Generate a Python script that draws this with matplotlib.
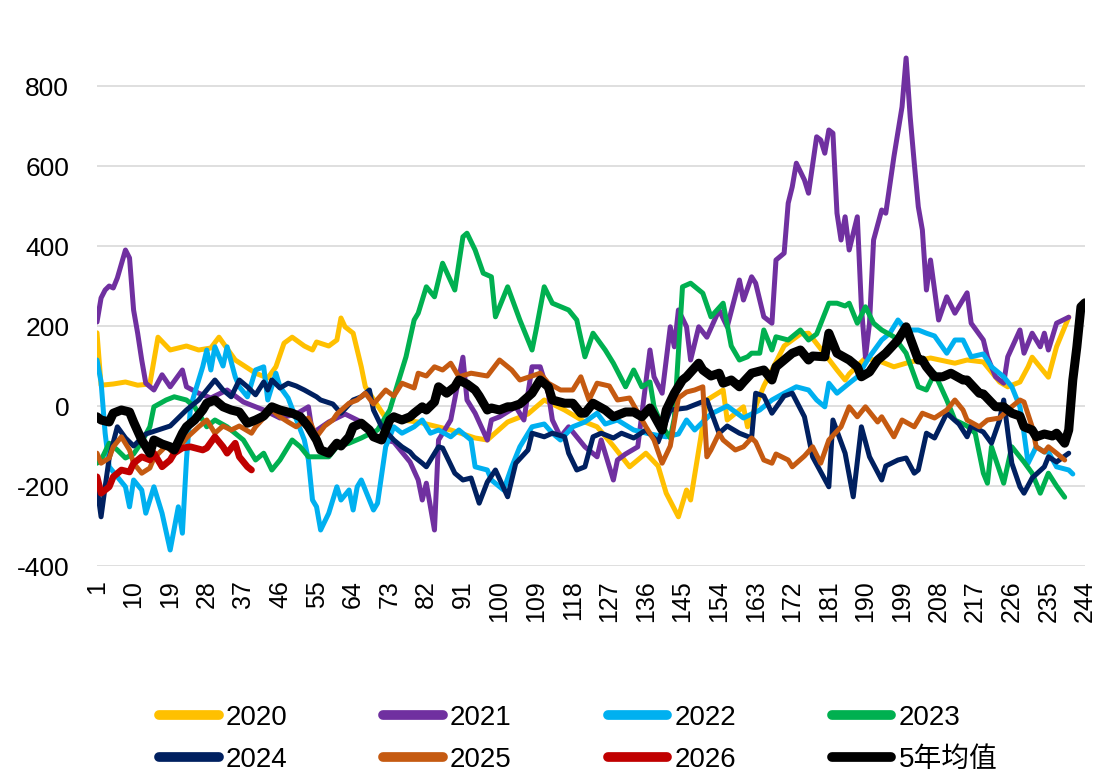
import matplotlib
matplotlib.use("Agg")
import matplotlib.pyplot as plt
from matplotlib.lines import Line2D

# ---------------- data ----------------
x2020 = [1, 2, 5, 8, 11, 14, 16, 19, 23, 26, 29, 31, 35, 40, 43, 45, 47, 49, 52, 54, 55, 58, 60, 61, 62, 64, 66, 67,
         72, 80, 88, 94, 97, 102, 107, 111, 116, 121, 124, 128, 132, 136, 139, 141, 144, 146, 147, 149, 151, 155, 156,
         160, 161, 165, 170, 174, 176, 180, 183, 185, 186, 190, 194, 197, 201, 206, 212, 215, 219, 223, 225, 228, 230,
         231, 235, 237, 240]
y2020 = [183, 52, 55, 60, 52, 55, 172, 140, 150, 140, 145, 172, 115, 82, 70, 98, 157, 172, 150, 140, 160, 150, 165, 220,
         198, 182, 98, 48, -30, -40, -60, -80, -85, -40, -20, 15, -10, -40, -52, -100, -152, -118, -150, -218, -277, -210,
         -235, -110, 15, 40, -35, -2, -52, 50, 150, 180, 182, 130, 90, 65, 80, 120, 110, 98, 110, 120, 107, 115, 110, 60,
         48, 60, 98, 122, 72, 148, 222]

x2021 = [1, 2, 3, 4, 5, 6, 8, 9, 10, 11, 12, 13, 15, 17, 19, 22, 23, 26, 29, 33, 37, 42, 46, 50, 53, 54, 58, 62, 66, 70,
         74, 78, 80, 81, 82, 84, 85, 88, 91, 92, 94, 97, 98, 100, 104, 106, 108, 110, 112, 113, 115, 117, 121, 124, 125,
         128, 129, 131, 134, 137, 138, 140, 142, 143, 144, 146, 147, 149, 151, 154, 156, 159, 160, 162, 163, 165, 167,
         168, 170, 171, 172, 173, 175, 176, 178, 179, 180, 181, 182, 183, 184, 185, 186, 188, 189, 190, 191, 192, 194,
         195, 197, 199, 200, 201, 202, 203, 204, 205, 206, 208, 210, 212, 215, 216, 219, 220, 222, 224, 225, 228, 229,
         231, 233, 234, 235, 237, 240]
y2021 = [210, 270, 290, 300, 295, 320, 390, 370, 240, 182, 115, 57, 40, 78, 48, 90, 48, 32, 20, 40, 10, -10, -30, -20,
         -2, -68, -40, -20, -40, -80, -90, -140, -185, -235, -193, -310, -85, -35, 122, 15, -18, -85, -35, -27, -2, -35,
         98, 98, 32, -35, -77, -52, -102, -127, -85, -185, -135, -120, -102, 140, 73, 32, 198, 148, 240, 198, 115, 198,
         172, 240, 198, 315, 265, 323, 307, 223, 207, 365, 382, 507, 548, 607, 565, 532, 673, 665, 632, 690, 682, 482,
         415, 473, 390, 473, 248, 122, 207, 415, 490, 482, 623, 748, 870, 723, 608, 498, 440, 290, 365, 215, 273, 232,
         283, 207, 165, 123, 73, 57, 123, 190, 132, 182, 148, 182, 140, 207, 222]

x2022 = [1, 2, 3, 4, 8, 9, 10, 12, 13, 15, 17, 19, 21, 22, 23, 24, 27, 28, 29, 30, 32, 33, 35, 36, 38, 40, 42, 43, 45,
         46, 48, 52, 53, 54, 55, 56, 58, 60, 61, 63, 64, 65, 66, 69, 70, 72, 74, 76, 79, 81, 83, 85, 88, 90, 93, 94, 97,
         98, 101, 103, 105, 108, 111, 113, 115, 118, 121, 124, 126, 129, 133, 137, 141, 144, 146, 148, 152, 156, 160,
         164, 167, 170, 173, 176, 178, 180, 181, 183, 186, 188, 191, 194, 196, 198, 200, 203, 205, 207, 210, 212, 214,
         216, 219, 221, 224, 226, 228, 229, 230, 232, 234, 235, 237, 240, 241]
y2022 = [115, 60, -68, -152, -202, -252, -185, -210, -268, -202, -268, -360, -252, -318, -135, -2, 98, 140, 90, 148,
         100, 148, 73, 48, 23, 90, 98, 15, 82, 48, 20, -85, -135, -235, -252, -310, -268, -202, -235, -210, -260, -202,
         -185, -260, -243, -102, -52, -68, -52, -35, -68, -60, -77, -60, -85, -152, -160, -185, -210, -152, -102, -52,
         -45, -68, -85, -52, -40, -18, -45, -35, -60, -70, -77, -70, -35, -60, -20, 0, -30, -10, 15, 32, 48, 40, 15, -2,
         57, 32, 57, 73, 123, 165, 182, 215, 190, 190, 182, 175, 132, 165, 165, 123, 130, 98, 73, 48, -2, -68, -143,
         -102, -115, -115, -152, -160, -170]

x2023 = [1, 2, 4, 6, 8, 10, 12, 14, 15, 18, 20, 23, 25, 28, 30, 33, 37, 40, 42, 44, 46, 49, 51, 53, 55, 58, 60, 63, 66,
         70, 73, 75, 77, 79, 80, 81, 82, 84, 86, 89, 91, 92, 94, 96, 98, 99, 102, 105, 108, 109, 111, 113, 117, 119, 121,
         123, 126, 128, 131, 133, 135, 137, 138, 140, 142, 143, 145, 147, 150, 152, 155, 157, 159, 161, 162, 164, 165,
         167, 168, 171, 174, 176, 178, 181, 183, 185, 186, 188, 190, 192, 194, 197, 200, 203, 205, 207, 210, 212, 215,
         217, 219, 220, 221, 224, 226, 229, 231, 233, 235, 237, 239]
y2023 = [-143, -135, -93, -110, -130, -120, -90, -52, -2, 15, 23, 15, -2, -52, -35, -52, -85, -135, -118, -160, -135,
         -85, -102, -127, -127, -127, -102, -93, -80, -60, -10, 57, 123, 215, 232, 265, 298, 273, 357, 290, 423, 432,
         390, 332, 323, 223, 298, 215, 140, 190, 298, 257, 240, 215, 123, 182, 140, 107, 48, 90, 48, 60, -2, -50, -80,
         -30, 298, 307, 282, 223, 257, 150, 115, 123, 132, 132, 190, 140, 173, 165, 190, 165, 180, 257, 257, 250, 257,
         207, 248, 207, 190, 173, 132, 48, 40, 82, 15, -35, -50, -68, -168, -193, -102, -193, -102, -140, -168, -218,
         -168, -200, -228]

x2024 = [1, 2, 3, 4, 6, 8, 10, 13, 16, 19, 21, 23, 26, 30, 32, 34, 36, 38, 40, 42, 43, 44, 46, 48, 50, 52, 55, 56, 59,
         61, 64, 66, 68, 69, 71, 74, 76, 78, 79, 81, 82, 85, 86, 89, 91, 93, 95, 97, 99, 102, 104, 107, 108, 111, 113,
         116, 117, 119, 121, 123, 125, 128, 130, 133, 136, 139, 142, 146, 151, 154, 156, 159, 162, 163, 165, 167, 170,
         172, 175, 177, 181, 182, 185, 187, 189, 191, 194, 195, 198, 200, 202, 203, 205, 207, 210, 213, 215, 216, 219,
         221, 223, 224, 226, 228, 229, 231, 234, 235, 237, 240]
y2024 = [-202, -277, -202, -130, -52, -80, -100, -70, -60, -50, -30, -10, 15, 65, 40, 23, 65, 48, 28, 60, 40, 65, 45,
         57, 50, 40, 23, 15, 5, -18, 15, 23, 40, -10, -52, -85, -102, -115, -127, -143, -152, -102, -105, -168, -185,
         -180, -243, -190, -160, -227, -143, -110, -68, -77, -68, -77, -118, -160, -152, -77, -68, -80, -68, -80, -60,
         -90, -10, -5, 15, -68, -50, -68, -80, 32, 25, -18, 25, 32, -27, -127, -202, -35, -118, -227, -52, -127, -185,
         -150, -135, -130, -168, -160, -68, -80, -18, -45, -77, -50, -65, -93, -35, 15, -143, -202, -218, -180, -152,
         -127, -140, -118]

x2025 = [1, 2, 4, 5, 7, 9, 10, 12, 14, 15, 18, 20, 23, 26, 28, 30, 32, 34, 36, 39, 40, 42, 44, 46, 48, 50, 53, 55, 57,
         59, 60, 63, 65, 67, 69, 72, 74, 76, 79, 80, 82, 84, 86, 88, 90, 93, 97, 100, 103, 105, 108, 110, 112, 115, 118,
         120, 122, 124, 127, 129, 132, 136, 138, 140, 142, 144, 146, 148, 150, 151, 152, 154, 155, 158, 160, 162, 163,
         165, 167, 168, 171, 172, 175, 177, 179, 181, 184, 186, 188, 190, 193, 194, 197, 199, 202, 204, 207, 210, 212,
         214, 215, 218, 220, 223, 225, 228, 229, 231, 232, 234, 235, 237, 239]
y2025 = [-118, -143, -130, -102, -77, -110, -143, -168, -155, -130, -100, -120, -80, -52, -35, -68, -50, -60, -50, -68,
         -52, -30, -10, -27, -40, -52, -30, -77, -50, -35, -20, 7, 15, 32, 5, 40, 25, 57, 45, 82, 75, 98, 90, 107, 73,
         82, 75, 115, 90, 65, 75, 82, 57, 40, 40, 73, 15, 57, 50, 15, 20, -52, -85, -143, -100, 20, 35, 40, 48, -127,
         -110, -68, -85, -110, -102, -80, -90, -135, -143, -120, -135, -152, -125, -102, -143, -85, -52, -2, -27, -2,
         -40, -27, -77, -35, -52, -18, -30, -10, 15, -10, -35, -52, -35, -30, -10, 15, 10, -52, -102, -115, -102, -118,
         -135]

x2026 = [1, 2, 4, 5, 7, 9, 10, 12, 14, 15, 17, 19, 20, 22, 24, 27, 28, 30, 32, 33, 35, 36, 38, 39]
y2026 = [-177, -218, -202, -177, -160, -165, -143, -127, -135, -118, -152, -135, -118, -105, -102, -110, -105, -77,
         -102, -118, -93, -127, -152, -160]

x_avg = [1, 2, 4, 5, 7, 9, 10, 12, 14, 15, 17, 19, 20, 22, 23, 25, 27, 28, 30, 32, 34, 36, 38, 40, 42, 44, 46, 49, 51,
         53, 55, 56, 58, 60, 61, 63, 64, 66, 68, 69, 71, 73, 74, 76, 78, 79, 81, 82, 84, 85, 87, 89, 90, 92, 94, 95, 97,
         98, 100, 102, 103, 105, 108, 110, 112, 113, 116, 118, 120, 121, 123, 126, 128, 131, 133, 135, 137, 140, 141,
         143, 145, 146, 149, 150, 152, 154, 155, 157, 159, 160, 162, 165, 167, 168, 170, 172, 174, 176, 177, 180, 181,
         183, 186, 188, 189, 191, 193, 195, 198, 200, 201, 203, 204, 205, 207, 209, 211, 214, 215, 218, 219, 222, 224,
         226, 228, 229, 231, 232, 234, 236, 237, 239, 240, 241, 242, 243, 244]
y_avg = [-27, -35, -40, -18, -10, -15, -40, -85, -118, -85, -95, -102, -110, -68, -52, -35, -10, 7, 15, -2, -10, -15,
         -43, -35, -25, -2, -10, -18, -27, -52, -85, -110, -118, -93, -100, -77, -52, -43, -60, -77, -85, -35, -27, -35,
         -27, -18, -2, -10, 10, 48, 32, 48, 65, 55, 40, 25, -10, -5, -10, -2, -2, 5, 32, 65, 48, 15, 7, 7, -18, -18, 7,
         -10, -27, -15, -15, -27, -5, -60, -10, 32, 65, 73, 107, 90, 75, 82, 57, 65, 48, 60, 82, 90, 65, 98, 115, 132,
         140, 115, 125, 123, 182, 132, 115, 98, 73, 85, 115, 132, 165, 198, 170, 115, 115, 98, 73, 73, 82, 65, 65, 32,
         30, -2, -2, -18, -25, -52, -60, -77, -70, -75, -68, -93, -60, 65, 148, 248, 258]

series_names = ["2020", "2021", "2022", "2023", "2024", "2025", "2026", "5年均值"]
x_ticks = list(range(1, 245, 9))
y_ticks = [-400, -200, 0, 200, 400, 600, 800]

# ---------------- styling ----------------
colors = ["#FFC000", "#7030A0", "#00B0F0", "#00B050", "#002060", "#C55A11", "#C00000", "#000000"]
widths = [3.6, 3.6, 3.6, 3.6, 3.6, 3.6, 4.8, 6.5]
xs = [x2020, x2021, x2022, x2023, x2024, x2025, x2026, x_avg]
ys = [y2020, y2021, y2022, y2023, y2024, y2025, y2026, y_avg]

plt.rcParams['font.family'] = ['Liberation Sans', 'Noto Sans CJK SC', 'DejaVu Sans']
plt.rcParams['axes.unicode_minus'] = False

fig = plt.figure(figsize=(10.97, 7.74), dpi=100)
ax = fig.add_axes([97 / 1097, 208 / 774, (1085 - 97) / 1097, (728 - 208) / 774])

for i, (xv, yv) in enumerate(zip(xs, ys)):
    ax.plot(xv, yv, color=colors[i], lw=widths[i], solid_joinstyle='round',
            solid_capstyle='round', zorder=2 + i)

ax.set_xlim(1, 244)
ax.set_ylim(-400, 900)
ax.set_yticks(y_ticks)
ax.set_xticks(x_ticks)
ax.set_xticklabels([str(t) for t in x_ticks], rotation=90, fontsize=18)
ax.tick_params(axis='y', labelsize=19, length=0, pad=20)
ax.tick_params(axis='x', length=0, pad=10)
ax.grid(axis='y', color='#D9D9D9', lw=1.2, zorder=0)
for s in ax.spines.values():
    s.set_visible(False)

# legend filled row by row (4 columns x 2 rows)
handles = [Line2D([0], [0], color=c, lw=7, solid_capstyle='round') for c in colors]
order = [0, 4, 1, 5, 2, 6, 3, 7]
leg = fig.legend([handles[k] for k in order], [series_names[k] for k in order],
                 loc='center', bbox_to_anchor=(0.527, 0.0452), ncol=4,
                 frameon=False, handlelength=2.15, handletextpad=0.25,
                 columnspacing=3.45, labelspacing=0.57,
                 prop={'family': ['Liberation Sans', 'Noto Sans CJK SC'], 'size': 20})

fig.savefig("out.png", dpi=100)
